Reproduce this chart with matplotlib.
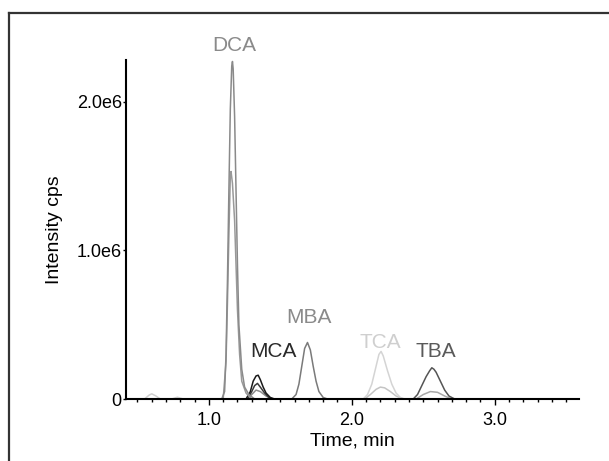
import matplotlib
matplotlib.use("Agg")
import matplotlib.pyplot as plt
from matplotlib.lines import Line2D
from matplotlib.ticker import MultipleLocator

plt.rcParams['font.family'] = ['Liberation Sans', 'DejaVu Sans']

# ======================
# data (time in min, intensity in 1e6 cps)
# ======================
dca_t = [0.42, 1.09, 1.11, 1.12, 1.13, 1.14, 1.15, 1.16, 1.165, 1.17, 1.18, 1.19, 1.20, 1.21, 1.23, 1.25, 1.28, 1.32, 3.59]
dca_i = [0, 0, 0.05, 0.30, 0.80, 1.40, 1.95, 2.24, 2.27, 2.22, 1.90, 1.40, 0.90, 0.50, 0.20, 0.08, 0.03, 0.0, 0]

dca2_t = [0.42, 1.10, 1.12, 1.13, 1.14, 1.15, 1.155, 1.165, 1.18, 1.19, 1.20, 1.215, 1.23, 1.26, 1.30, 3.59]
dca2_i = [0, 0, 0.25, 0.65, 1.10, 1.50, 1.53, 1.45, 1.20, 0.90, 0.60, 0.30, 0.12, 0.04, 0.0, 0]

mca_t = [0.42, 1.26, 1.29, 1.31, 1.33, 1.345, 1.36, 1.38, 1.40, 1.43, 1.46, 3.59]
mca_i = [0, 0, 0.05, 0.12, 0.155, 0.16, 0.13, 0.08, 0.04, 0.01, 0, 0]
mca2_t = [0.42, 1.27, 1.30, 1.32, 1.34, 1.36, 1.39, 1.42, 1.45, 3.59]
mca2_i = [0, 0, 0.05, 0.09, 0.105, 0.08, 0.04, 0.01, 0, 0]
mca3_t = [0.42, 1.27, 1.30, 1.33, 1.36, 1.40, 1.44, 3.59]
mca3_i = [0, 0, 0.03, 0.06, 0.05, 0.02, 0, 0]

mba_t = [0.42, 1.58, 1.61, 1.63, 1.65, 1.67, 1.69, 1.71, 1.73, 1.75, 1.77, 1.80, 1.83, 3.59]
mba_i = [0, 0, 0.03, 0.10, 0.22, 0.34, 0.38, 0.33, 0.22, 0.12, 0.05, 0.01, 0, 0]

tca_t = [0.42, 2.08, 2.11, 2.14, 2.17, 2.19, 2.205, 2.22, 2.25, 2.28, 2.31, 2.34, 2.37, 3.59]
tca_i = [0, 0, 0.03, 0.10, 0.22, 0.30, 0.32, 0.29, 0.19, 0.10, 0.04, 0.01, 0, 0]
tca2_t = [0.42, 2.09, 2.13, 2.17, 2.20, 2.23, 2.27, 2.31, 2.36, 3.59]
tca2_i = [0, 0, 0.03, 0.065, 0.08, 0.075, 0.05, 0.02, 0, 0]

tba_t = [0.42, 2.43, 2.46, 2.49, 2.52, 2.545, 2.56, 2.575, 2.59, 2.62, 2.65, 2.68, 2.72, 3.59]
tba_i = [0, 0, 0.03, 0.09, 0.15, 0.19, 0.21, 0.20, 0.18, 0.12, 0.06, 0.02, 0, 0]
tba2_t = [0.42, 2.45, 2.50, 2.55, 2.60, 2.65, 2.70, 3.59]
tba2_i = [0, 0, 0.03, 0.05, 0.045, 0.02, 0, 0]

bump_t = [0.42, 0.55, 0.58, 0.60, 0.63, 0.66, 0.74, 0.78, 0.82, 3.59]
bump_i = [0, 0, 0.025, 0.035, 0.02, 0, 0, 0.012, 0, 0]

labels = ["DCA", "MCA", "MBA", "TCA", "TBA"]
label_t = [1.175, 1.45, 1.70, 2.20, 2.59]
label_i = [2.38, 0.32, 0.55, 0.38, 0.32]
label_colors = ["#8a8a8a", "#2a2a2a", "#8a8a8a", "#cfcfcf", "#5a5a5a"]

# ======================
# figure
# ======================
fig = plt.figure(figsize=(6.09, 4.61), dpi=100)
ax = fig.add_axes([126 / 609, 62 / 461, 453 / 609, 339 / 461])

traces = [
    (bump_t, bump_i, "#d0d0d0"),
    (tca2_t, tca2_i, "#c4c4c4"),
    (tca_t, tca_i, "#d4d4d4"),
    (tba2_t, tba2_i, "#a8a8a8"),
    (tba_t, tba_i, "#555555"),
    (mba_t, mba_i, "#7a7a7a"),
    (mca3_t, mca3_i, "#8c8c8c"),
    (mca2_t, mca2_i, "#3a3a3a"),
    (mca_t, mca_i, "#1a1a1a"),
    (dca2_t, dca2_i, "#999999"),
    (dca_t, dca_i, "#8a8a8a"),
]
for t, i, c in traces:
    ax.plot(t, [v * 1e6 for v in i], color=c, lw=1.1)

for lab, t, i, c in zip(labels, label_t, label_i, label_colors):
    ax.text(t, i * 1e6, lab, color=c, fontsize=15, ha="center", va="center", clip_on=False)

ax.set_xlim(0.42, 3.59)
ax.set_ylim(0, 2.28e6)
ax.set_xticks([1.0, 2.0, 3.0])
ax.set_xticklabels(["1.0", "2.0", "3.0"])
ax.xaxis.set_minor_locator(MultipleLocator(0.1))
ax.set_yticks([0, 1.0e6, 2.0e6])
ax.set_yticklabels(["0", "1.0e6", "2.0e6"])
ax.tick_params(axis="x", which="major", length=4, width=1, labelsize=13, pad=5)
ax.tick_params(axis="x", which="minor", length=2.5, width=1)
ax.tick_params(axis="y", length=2, width=1, labelsize=13, pad=1)

for s in ["top", "right"]:
    ax.spines[s].set_visible(False)
for s in ["left", "bottom"]:
    ax.spines[s].set_linewidth(1.5)

ax.set_xlabel("Time, min", fontsize=14, labelpad=3)
ax.set_ylabel("Intensity cps", fontsize=14, labelpad=10)

# outer frame (top and left only)
fig.add_artist(Line2D([9 / 609, 1.0], [1 - 13 / 461, 1 - 13 / 461], color="#333333", lw=1.6))
fig.add_artist(Line2D([9 / 609, 9 / 609], [0.0, 1 - 13 / 461], color="#333333", lw=1.6))

fig.savefig("out.png", dpi=100)
